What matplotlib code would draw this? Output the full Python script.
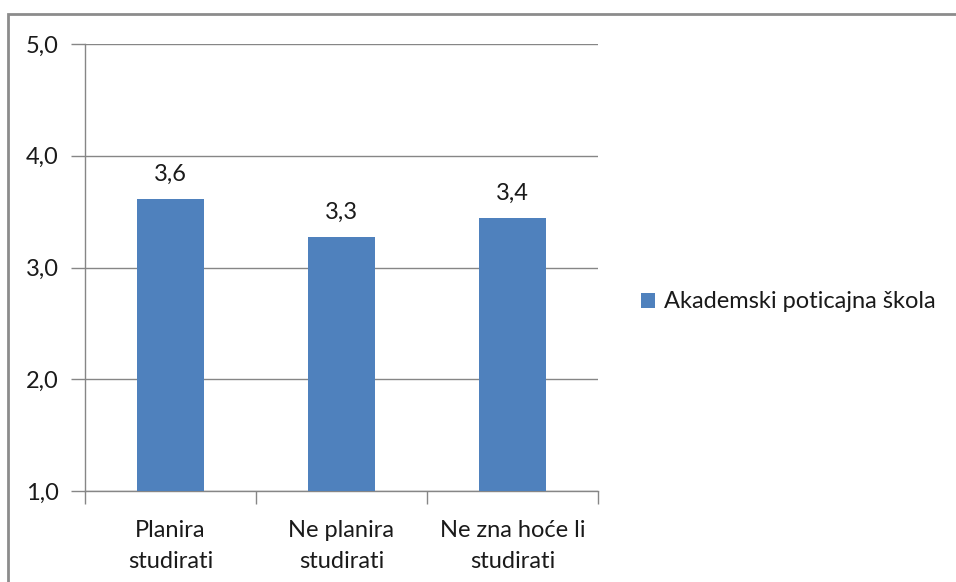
import matplotlib
matplotlib.use("Agg")
import matplotlib.pyplot as plt
from matplotlib.patches import Rectangle

plt.rcParams['font.family'] = ['Lato', 'DejaVu Sans']

# podaci
kategorije = ["Planira\nstudirati", "Ne planira\nstudirati", "Ne zna hoće li\nstudirati"]
vrijednosti = [3.61, 3.27, 3.44]
oznake = ["3,6", "3,3", "3,4"]
y_ticks = [1.0, 2.0, 3.0, 4.0, 5.0]
y_tick_labels = ["1,0", "2,0", "3,0", "4,0", "5,0"]
serija = "Akademski poticajna škola"

boja = "#4F81BD"
siva = "#868686"
tekst = "#1a1a1a"
fs = 17

fig = plt.figure(figsize=(9.56, 5.82), dpi=100)
ax = fig.add_axes([85/956, 1-491/582, (598-85)/956, (491-44)/582])

x = list(range(len(kategorije)))
bars = ax.bar(x, [v - 1.0 for v in vrijednosti], bottom=1.0, width=0.39,
              color=boja, label=serija, zorder=3)

for xi, v, t in zip(x, vrijednosti, oznake):
    ax.text(xi, v + 0.13, t, ha='center', va='bottom', fontsize=fs, color=tekst)

ax.set_xlim(-0.5, 2.5)
ax.set_ylim(1.0, 5.0)
ax.set_yticks(y_ticks)
ax.set_yticklabels(y_tick_labels, fontsize=fs, color=tekst)
ax.yaxis.grid(True, color=siva, linewidth=1.0, zorder=0)

ax.set_xticks([-0.5, 0.5, 1.5, 2.5])
ax.set_xticklabels([])
ax.set_xticks(x, minor=True)
ax.set_xticklabels(kategorije, minor=True, fontsize=fs, color=tekst, linespacing=1.55)
ax.tick_params(axis='x', which='minor', length=0, pad=21)
ax.tick_params(axis='x', which='major', length=9, color=siva, width=1)
ax.tick_params(axis='y', length=10, color=siva, width=1, pad=9)

for s in ['top', 'right']:
    ax.spines[s].set_visible(False)
for s in ['left', 'bottom']:
    ax.spines[s].set_color(siva)
    ax.spines[s].set_linewidth(1.0)

leg = fig.legend(handles=[bars], labels=[serija], loc='center left',
                 bbox_to_anchor=(620/956, 1-302/582), frameon=False,
                 fontsize=fs, handlelength=0.6, handleheight=0.6,
                 handletextpad=0.35)
for t in leg.get_texts():
    t.set_color(tekst)

# okvir oko grafikona
fig.patches.append(Rectangle((8/956, -0.1), 1.2, 1-14/582+0.1,
                             transform=fig.transFigure, fill=False,
                             edgecolor='#8c8c8c', linewidth=2))

fig.savefig("out.png", dpi=100)
